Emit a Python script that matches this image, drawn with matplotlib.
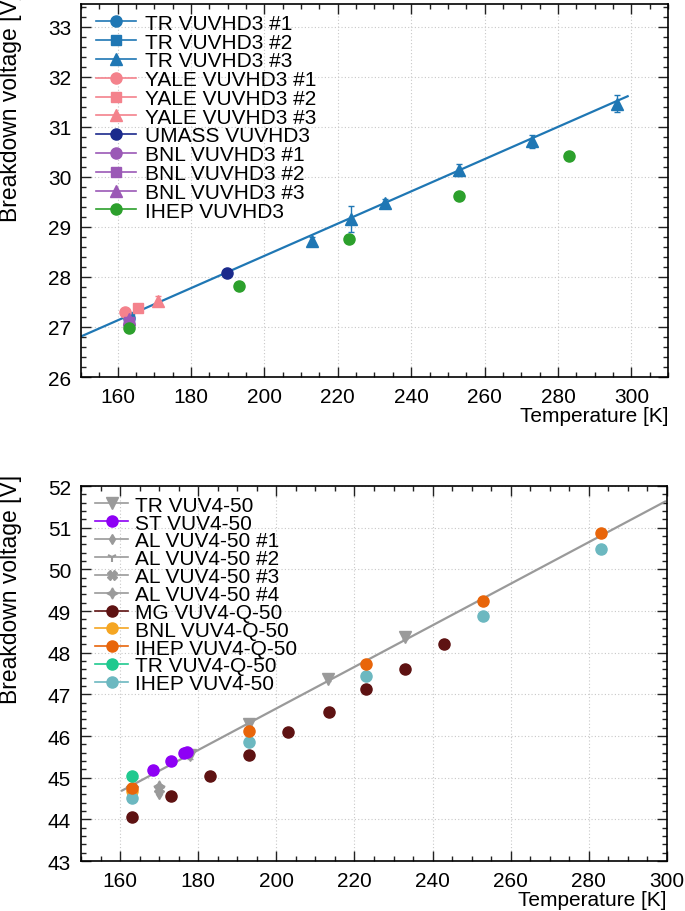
import numpy as np
import matplotlib
matplotlib.use('Agg')
import matplotlib.pyplot as plt
from matplotlib.lines import Line2D
from matplotlib.ticker import MultipleLocator

plt.rcParams['font.family'] = ['Liberation Sans', 'DejaVu Sans']

# ---- top panel: VUVHD3 ----
tr1_T = [163.0]
tr1_V = [27.17]
tr2_T = [163.0]
tr2_V = [27.20]
tr3_T = [212.9, 223.7, 232.9, 253.0, 273.0, 296.0]
tr3_V = [28.72, 29.15, 29.48, 30.13, 30.71, 31.46]
tr3_err = [0.08, 0.26, 0.07, 0.12, 0.13, 0.17]
yale1_T = [162.0]
yale1_V = [27.29]
yale2_T = [165.6]
yale2_V = [27.38]
yale3_T = [171.0]
yale3_V = [27.52]
yale3_err = [0.10]
umass_T = [189.8]
umass_V = [28.07]
bnl1_T = [163.0]
bnl1_V = [27.05]
bnl2_T = [163.0]
bnl2_V = [27.10]
bnl3_T = [163.0]
bnl3_V = [27.15]
ihep_hd_T = [163.0, 193.0, 223.0, 253.0, 283.0]
ihep_hd_V = [26.98, 27.81, 28.75, 29.61, 30.41]
# linear fit: V(T) = a + b*(T - 150)
fit_top = (26.81, 0.0322)
fit_top_range = (150.0, 299.0)

# ---- bottom panel: VUV4-50 ----
tr50_T = [163.0, 178.0, 193.0, 213.3, 233.0]
tr50_V = [44.66, 45.55, 46.28, 47.38, 48.37]
tr50_err = [0.05, 0.10, 0.05, 0.05, 0.05]
st50_T = [168.4, 173.0, 176.3, 177.2]
st50_V = [45.19, 45.39, 45.59, 45.61]
al1_T = [170.0]
al1_V = [44.60]
al2_T = [170.0]
al2_V = [44.65]
al3_T = [170.0]
al3_V = [44.72]
al4_T = [170.0]
al4_V = [44.80]
mg_T = [163.0, 173.0, 183.0, 193.0, 203.0, 213.5, 223.0, 233.0, 243.0]
mg_V = [44.05, 44.55, 45.05, 45.54, 46.10, 46.57, 47.12, 47.62, 48.22]
mg_err = [0.05, 0.05, 0.05, 0.06, 0.05, 0.05, 0.06, 0.09, 0.08]
bnlq_T = [163.0]
bnlq_V = [44.68]
ihepq_T = [163.0, 193.0, 223.0, 253.0, 283.0]
ihepq_V = [44.76, 46.13, 47.73, 49.23, 50.87]
trq_T = [163.0]
trq_V = [45.05]
ihep50_T = [163.0, 193.0, 223.0, 253.0, 283.0]
ihep50_V = [44.52, 45.86, 47.45, 48.87, 50.49]
fit_bot = (44.70, 0.0499)   # V(T) = a + b*(T - 160.7)
fit_bot_ref = 160.7
fit_bot_range = (160.5, 299.5)

blue = '#1f77b4'
pink = '#f4828c'
navy = '#1b2a8c'
purple = '#9b59b6'
green = '#2ca02c'
grey = '#9a9a9a'
violet = '#8e00f5'
maroon = '#5e1212'
yellow = '#f5a623'
orange = '#e8650a'
teal = '#1fc98f'
cyan = '#6cb8c0'

FS = 15
MS = 8


def style_axes(ax, xlim, ylim):
    ax.set_xlim(*xlim)
    ax.set_ylim(*ylim)
    ax.xaxis.set_major_locator(MultipleLocator(20))
    ax.xaxis.set_minor_locator(MultipleLocator(5))
    ax.yaxis.set_major_locator(MultipleLocator(1))
    ax.yaxis.set_minor_locator(MultipleLocator(0.2))
    ax.tick_params(which='both', direction='in', top=True, right=True,
                   labelsize=15, width=1.0, color='#222222')
    ax.tick_params(which='major', length=7, pad=7)
    ax.tick_params(which='minor', length=3.5)
    ax.grid(True, which='major', color='#c8c8c8', linestyle=(0, (1, 2)), lw=0.8)
    ax.set_axisbelow(True)
    for s in ax.spines.values():
        s.set_linewidth(1.2)
    ax.set_xlabel('Temperature [K]', fontsize=FS, loc='right', labelpad=0)
    ax.set_ylabel('Breakdown voltage [V]', fontsize=16.5, loc='top')
    ax.yaxis.set_label_coords(-0.1, 1.032)


def pts(ax, T, V, color, marker, err=None, ms=MS, **kw):
    if err is not None:
        ax.errorbar(T, V, yerr=err, fmt='none', ecolor=color,
                    elinewidth=1.0, capsize=2, capthick=1.0, zorder=3)
    ax.plot(T, V, linestyle='none', marker=marker, color=color, ms=ms,
            mec=color, zorder=4, **kw)
    return Line2D([], [], color=color, marker=marker, ms=ms, lw=1.2, mec=color, **kw)


fig = plt.figure(figsize=(6.85, 9.12), dpi=100)
ax1 = fig.add_axes([0.1182, 0.5855, 0.857, 0.409])
ax2 = fig.add_axes([0.1182, 0.0548, 0.8555, 0.4112])

# top
style_axes(ax1, (150, 310), (26, 33.45))
t = np.linspace(fit_top_range[0], fit_top_range[1], 2)
ax1.plot(t, fit_top[0] + fit_top[1] * (t - 150), color=blue, lw=1.6, zorder=2)
h = []
h.append(pts(ax1, tr1_T, tr1_V, blue, 'o'))
h.append(pts(ax1, tr2_T, tr2_V, blue, 's', ms=7.5))
h.append(pts(ax1, tr3_T, tr3_V, blue, '^', err=tr3_err))
h.append(pts(ax1, yale1_T, yale1_V, pink, 'o'))
h.append(pts(ax1, yale2_T, yale2_V, pink, 's', ms=7.5))
h.append(pts(ax1, yale3_T, yale3_V, pink, '^', err=yale3_err))
h.append(pts(ax1, umass_T, umass_V, navy, 'o'))
h.append(pts(ax1, bnl1_T, bnl1_V, purple, 'o'))
h.append(pts(ax1, bnl2_T, bnl2_V, purple, 's', ms=7.5))
h.append(pts(ax1, bnl3_T, bnl3_V, purple, '^'))
h.append(pts(ax1, ihep_hd_T, ihep_hd_V, green, 'o'))
labels1 = ['TR VUVHD3 #1', 'TR VUVHD3 #2', 'TR VUVHD3 #3',
           'YALE VUVHD3 #1', 'YALE VUVHD3 #2', 'YALE VUVHD3 #3',
           'UMASS VUVHD3', 'BNL VUVHD3 #1', 'BNL VUVHD3 #2', 'BNL VUVHD3 #3',
           'IHEP VUVHD3']
ax1.legend(h, labels1, loc='upper left', bbox_to_anchor=(0.0256, 0.974),
           frameon=False, fontsize=FS, borderpad=0, borderaxespad=0,
           labelspacing=-0.01, handlelength=1.9, handletextpad=0.43)

# bottom
style_axes(ax2, (150, 300), (43, 52))
t = np.linspace(fit_bot_range[0], fit_bot_range[1], 2)
ax2.plot(t, fit_bot[0] + fit_bot[1] * (t - fit_bot_ref), color=grey, lw=1.6, zorder=2)
h_tr = pts(ax2, tr50_T, tr50_V, grey, 'v', err=tr50_err)
h_st = pts(ax2, st50_T, st50_V, violet, 'o')
h_al1 = pts(ax2, al1_T, al1_V, grey, 'd', ms=5)
h_al2 = pts(ax2, al2_T, al2_V, grey, '1', ms=7, mew=1.5)
h_al3 = pts(ax2, al3_T, al3_V, grey, 'X', ms=7)
h_al4 = pts(ax2, al4_T, al4_V, grey, (4, 1, 0), ms=8)
h_mg = pts(ax2, mg_T, mg_V, maroon, 'o', err=mg_err)
h_bnl = pts(ax2, bnlq_T, bnlq_V, yellow, 'o')
h_ihep50 = pts(ax2, ihep50_T, ihep50_V, cyan, 'o')
h_ihepq = pts(ax2, ihepq_T, ihepq_V, orange, 'o')
h_trq = pts(ax2, trq_T, trq_V, teal, 'o')
h = [h_tr, h_st, h_al1, h_al2, h_al3, h_al4, h_mg, h_bnl, h_ihepq, h_trq, h_ihep50]
labels2 = ['TR VUV4-50', 'ST VUV4-50', 'AL VUV4-50 #1', 'AL VUV4-50 #2',
           'AL VUV4-50 #3', 'AL VUV4-50 #4', 'MG VUV4-Q-50', 'BNL VUV4-Q-50',
           'IHEP VUV4-Q-50', 'TR VUV4-Q-50', 'IHEP VUV4-50']
ax2.legend(h, labels2, loc='upper left', bbox_to_anchor=(0.0239, 0.974),
           frameon=False, fontsize=FS, borderpad=0, borderaxespad=0,
           labelspacing=-0.055, handlelength=1.6, handletextpad=0.33)

fig.savefig('out.png', dpi=100)
